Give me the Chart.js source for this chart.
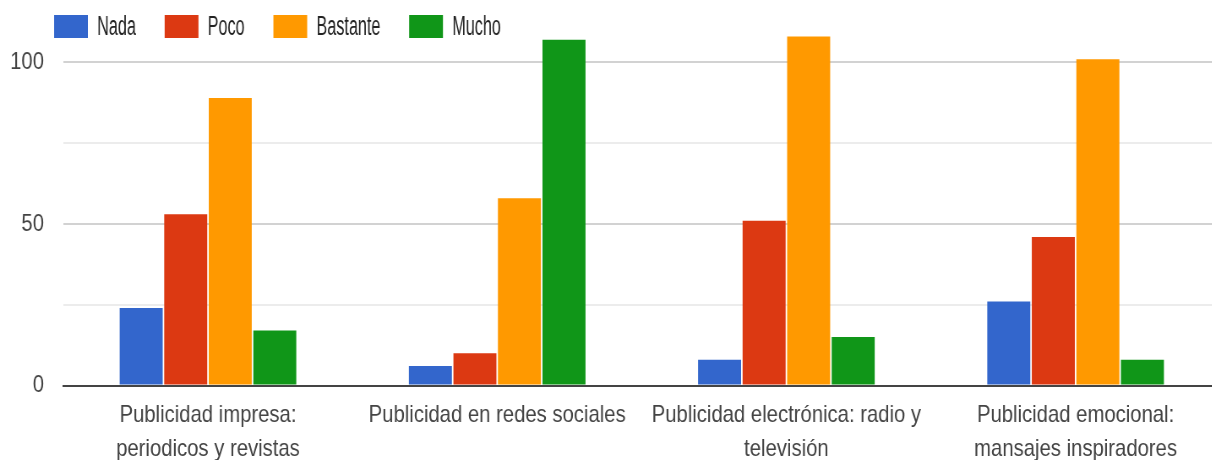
<!DOCTYPE html>
<html lang="es">

<head>
    <meta charset="UTF-8">
    <title>Publicidad</title>
    <style>
        body {
            margin: 0;
            background-color: #ffffff;
            overflow: hidden;
        }

        /* chart is drawn wide and squeezed horizontally */
        #adChart {
            display: block;
            transform: scaleX(0.845);
            transform-origin: 0 0;
        }
    </style>
</head>

<body>
<canvas id="adChart" width="1444" height="460"></canvas>

<script src="https://cdn.jsdelivr.net/npm/chart.js"></script>

<script>
    const categories = [
        ['Publicidad impresa:', 'periodicos y revistas'],
        ['Publicidad en redes sociales'],
        ['Publicidad electrónica: radio y', 'televisión'],
        ['Publicidad emocional:', 'mansajes inspiradores']
    ];
    const seriesNames = ['Nada', 'Poco', 'Bastante', 'Mucho'];
    const nada = [24, 6, 8, 26];
    const poco = [53, 10, 51, 46];
    const bastante = [89, 58, 108, 101];
    const mucho = [17, 107, 15, 8];
    const yTicks = [0, 25, 50, 75, 100];
    const yLabels = [0, 50, 100];

    const colors = ['#3366cc', '#dc3912', '#ff9900', '#109618'];
    const series = [nada, poco, bastante, mucho];

    Chart.defaults.font.family = "'Liberation Sans', Arial, sans-serif";
    Chart.defaults.font.size = 24;
    Chart.defaults.color = '#444444';

    // legend row drawn over the top left of the plot
    const topLegend = {
        id: 'topLegend',
        afterDraw(chart) {
            const ctx = chart.ctx;
            const squeeze = 0.71;
            ctx.save();
            ctx.font = "27px 'Liberation Sans', Arial, sans-serif";
            ctx.textBaseline = 'middle';
            let x = 64;
            chart.data.datasets.forEach(ds => {
                ctx.fillStyle = ds.backgroundColor;
                ctx.fillRect(x, 15, 40, 23);
                x += 40 + 11;
                const w = ctx.measureText(ds.label).width * squeeze;
                ctx.save();
                ctx.translate(x, 27.5);
                ctx.scale(squeeze, 1);
                ctx.fillStyle = '#222222';
                ctx.fillText(ds.label, 0, 0);
                ctx.restore();
                x += w + 34;
            });
            ctx.restore();
        }
    };

    const ctx = document.getElementById('adChart').getContext('2d');

    const adChart = new Chart(ctx, {
        type: 'bar',
        data: {
            labels: categories,
            datasets: seriesNames.map((name, i) => ({
                label: name,
                data: series[i],
                backgroundColor: colors[i],
                borderWidth: 0,
                categoryPercentage: 0.616,
                barPercentage: 0.966
            }))
        },
        options: {
            responsive: false,
            animation: false,
            layout: {
                padding: {top: 14, left: 0, right: 0, bottom: 0}
            },
            plugins: {
                legend: {display: false},
                tooltip: {enabled: false}
            },
            scales: {
                x: {
                    grid: {display: false},
                    border: {color: '#444444', width: 2},
                    ticks: {
                        padding: 5,
                        maxRotation: 0,
                        autoSkip: false,
                        font: {size: 24, lineHeight: 1.4}
                    },
                    afterFit(scale) {
                        scale.height = 74.5;
                        scale.paddingLeft = 0;
                        scale.paddingRight = 0;
                    }
                },
                y: {
                    min: 0,
                    max: 115,
                    border: {display: false},
                    grid: {
                        drawTicks: false,
                        lineWidth: 2,
                        color: c => (c.tick && c.tick.value % 50 === 0) ? '#d2d2d2' : '#ececec'
                    },
                    ticks: {
                        padding: 23,
                        callback: v => yLabels.includes(v) ? String(v) : ''
                    },
                    afterBuildTicks(scale) {
                        scale.ticks = yTicks.map(v => ({value: v}));
                    },
                    afterFit(scale) {
                        scale.width = 75;
                        scale.paddingTop = 0;
                        scale.paddingBottom = 0;
                    }
                }
            }
        },
        plugins: [topLegend]
    });
</script>
</body>

</html>
